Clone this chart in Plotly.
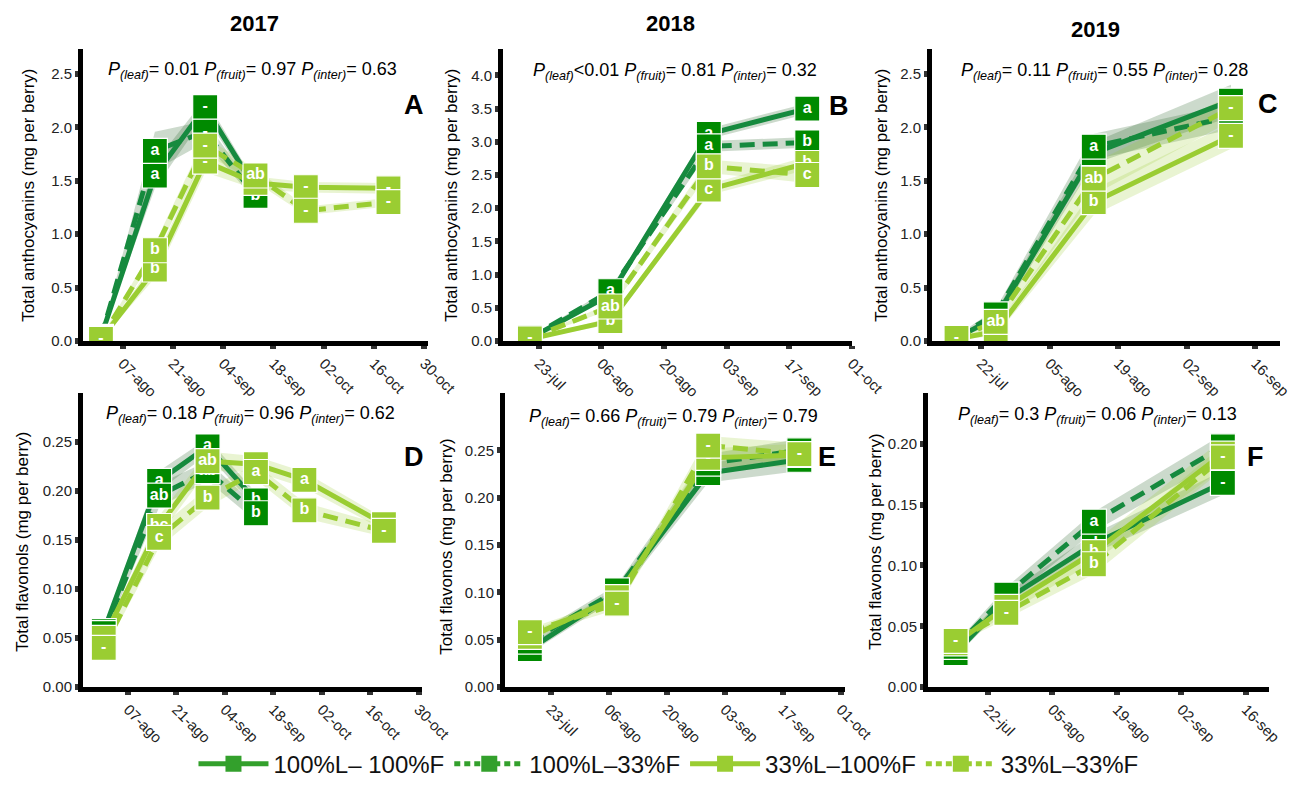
import plotly.graph_objects as go

# ---------------- data ----------------
SERIES = ["100%L\u2013 100%F", "100%L\u201333%F", "33%L\u2013100%F", "33%L\u201333%F"]

# Panel A: 2017 anthocyanins
A_dates = ["2017-08-01", "2017-08-16", "2017-08-30", "2017-09-13", "2017-09-27", "2017-10-20"]
A_vals = [[0.04, 1.55, 2.19, 1.43],
          [0.03, 1.78, 1.96, 1.36],
          [0.02, 0.67, 1.68, 1.48, 1.44, 1.43],
          [0.02, 0.85, 1.83, 1.55, 1.22, 1.30]]
A_se = [[0.01, 0.12, 0.08, 0.05],
        [0.01, 0.18, 0.10, 0.05],
        [0.01, 0.08, 0.10, 0.06, 0.05, 0.05],
        [0.01, 0.06, 0.08, 0.06, 0.04, 0.04]]
A_lab = [["-", "a", "-", "b"],
         ["-", "a", "-", "b"],
         ["-", "b", "-", "a", "-", "-"],
         ["-", "b", "-", "ab", "-", "-"]]

# Panel B: 2018 anthocyanins
B_dates = ["2018-07-21", "2018-08-08", "2018-08-30", "2018-09-21"]
B_vals = [[0.04, 0.70, 3.12, 3.50],
          [0.05, 0.75, 2.93, 2.99],
          [0.03, 0.30, 2.28, 2.68],
          [0.04, 0.52, 2.63, 2.50]]
B_se = [[0.01, 0.05, 0.08, 0.08],
        [0.01, 0.05, 0.08, 0.08],
        [0.01, 0.05, 0.08, 0.10],
        [0.01, 0.05, 0.10, 0.12]]
B_lab = [["-", "a", "a", "a"],
         ["-", "a", "a", "b"],
         ["-", "b", "c", "b"],
         ["-", "ab", "b", "c"]]

# Panel C: 2019 anthocyanins
C_dates = ["2019-07-17", "2019-07-25", "2019-08-14", "2019-09-11"]
C_vals = [[0.03, 0.22, 1.76, 2.25],
          [0.04, 0.25, 1.82, 2.10],
          [0.02, 0.09, 1.30, 1.92],
          [0.03, 0.18, 1.52, 2.18]]
C_se = [[0.01, 0.05, 0.10, 0.15],
        [0.01, 0.05, 0.12, 0.12],
        [0.01, 0.04, 0.12, 0.12],
        [0.01, 0.05, 0.15, 0.12]]
C_lab = [["-", "a", "a", "-"],
         ["-", "a", "a", "-"],
         ["-", "b", "b", "-"],
         ["-", "ab", "ab", "-"]]

# Panel D: 2017 flavonols
D_dates = ["2017-07-31", "2017-08-16", "2017-08-30", "2017-09-13", "2017-09-27", "2017-10-20"]
D_vals = [[0.057, 0.210, 0.245, 0.190],
          [0.055, 0.195, 0.220, 0.177],
          [0.050, 0.164, 0.230, 0.227, 0.211, 0.166],
          [0.040, 0.152, 0.193, 0.219, 0.180, 0.159]]
D_se = [[0.004, 0.010, 0.008, 0.008],
        [0.004, 0.012, 0.010, 0.008],
        [0.004, 0.010, 0.010, 0.008, 0.008, 0.006],
        [0.004, 0.010, 0.010, 0.008, 0.008, 0.006]]
D_lab = [["-", "a", "a", "b"],
         ["-", "ab", "ab", "b"],
         ["-", "bc", "ab", "a", "a", "-"],
         ["-", "c", "b", "a", "b", "-"]]

# Panel E: 2018 flavonols
E_dates = ["2018-07-18", "2018-08-08", "2018-08-30", "2018-09-21"]
E_vals = [[0.040, 0.100, 0.226, 0.240],
          [0.048, 0.102, 0.236, 0.250],
          [0.053, 0.095, 0.242, 0.245],
          [0.058, 0.088, 0.255, 0.246]]
E_se = [[0.004, 0.006, 0.010, 0.012],
        [0.004, 0.006, 0.010, 0.012],
        [0.004, 0.006, 0.010, 0.012],
        [0.004, 0.006, 0.010, 0.012]]
E_lab = [["-", "-", "-", "-"],
         ["-", "-", "-", "-"],
         ["-", "-", "-", "-"],
         ["-", "-", "-", "-"]]

# Panel F: 2019 flavonols
F_dates = ["2019-07-15", "2019-07-26", "2019-08-14", "2019-09-11"]
F_vals = [[0.028, 0.072, 0.118, 0.168],
          [0.033, 0.076, 0.136, 0.198],
          [0.036, 0.066, 0.111, 0.192],
          [0.038, 0.061, 0.101, 0.189]]
F_se = [[0.003, 0.005, 0.008, 0.010],
        [0.003, 0.006, 0.008, 0.010],
        [0.003, 0.006, 0.008, 0.012],
        [0.003, 0.005, 0.008, 0.010]]
F_lab = [["-", "-", "ab", "-"],
         ["-", "-", "a", "-"],
         ["-", "-", "b", "-"],
         ["-", "-", "b", "-"]]

# tick labels
T2017_vals = ["2017-08-07", "2017-08-21", "2017-09-04", "2017-09-18", "2017-10-02", "2017-10-16", "2017-10-30"]
T2017_text = ["07-ago", "21-ago", "04-sep", "18-sep", "02-oct", "16-oct", "30-oct"]
T2018_vals = ["2018-07-23", "2018-08-06", "2018-08-20", "2018-09-03", "2018-09-17", "2018-10-01"]
T2018_text = ["23-jul", "06-ago", "20-ago", "03-sep", "17-sep", "01-oct"]
T2019_vals = ["2019-07-22", "2019-08-05", "2019-08-19", "2019-09-02", "2019-09-16"]
T2019_text = ["22-jul", "05-ago", "19-ago", "02-sep", "16-sep"]

Y_antho_A = [0, 0.5, 1.0, 1.5, 2.0, 2.5]
Y_antho_A_text = ["0.0", "0.5", "1.0", "1.5", "2.0", "2.5"]
Y_antho_B = [0, 0.5, 1.0, 1.5, 2.0, 2.5, 3.0, 3.5, 4.0]
Y_antho_B_text = ["0.0", "0.5", "1.0", "1.5", "2.0", "2.5", "3.0", "3.5", "4.0"]
Y_flav_DE = [0, 0.05, 0.10, 0.15, 0.20, 0.25]
Y_flav_DE_text = ["0.00", "0.05", "0.10", "0.15", "0.20", "0.25"]
Y_flav_F = [0, 0.05, 0.10, 0.15, 0.20]
Y_flav_F_text = ["0.00", "0.05", "0.10", "0.15", "0.20"]

P_texts = [
    ("0.01", "0.97", "0.63", "="),
    ("0.01", "0.81", "0.32", "<"),
    ("0.11", "0.55", "0.28", "="),
    ("0.18", "0.96", "0.62", "="),
    ("0.66", "0.79", "0.79", "="),
    ("0.3", "0.06", "0.13", "="),
]

# ---------------- styling ----------------
W, H = 1298, 787
DARK_LINE = "#168a3e"
DARK_MARK = "#008a00"
LIGHT = "#9acd32"
STY = [
    dict(line=DARK_LINE, mark=DARK_MARK, rib="rgba(40,100,40,0.24)", dash="solid"),
    dict(line=DARK_LINE, mark=DARK_MARK, rib="rgba(40,100,40,0.24)", dash="15px,8px"),
    dict(line=LIGHT, mark=LIGHT, rib="rgba(154,205,50,0.22)", dash="solid"),
    dict(line=LIGHT, mark=LIGHT, rib="rgba(154,205,50,0.22)", dash="15px,8px"),
]
FONT = "Liberation Sans, Arial, sans-serif"

# pixel boxes of panels: (left, right, top, bottom)
BOX = [(83, 428, 50, 345), (503, 852, 50, 345), (932, 1280, 50, 345),
       (83, 422, 398, 695), (505, 845, 398, 695), (928, 1269, 398, 695)]

panels = [
    dict(dates=A_dates, vals=A_vals, se=A_se, lab=A_lab, xr=["2017-07-27", "2017-10-31"], yr=[0, 2.73],
         tv=T2017_vals, tt=T2017_text, yv=Y_antho_A, yt=Y_antho_A_text),
    dict(dates=B_dates, vals=B_vals, se=B_se, lab=B_lab, xr=["2018-07-15", "2018-10-01"], yr=[0, 4.39],
         tv=T2018_vals, tt=T2018_text, yv=Y_antho_B, yt=Y_antho_B_text),
    dict(dates=C_dates, vals=C_vals, se=C_se, lab=C_lab, xr=["2019-07-12", "2019-09-21"], yr=[0, 2.73],
         tv=T2019_vals, tt=T2019_text, yv=Y_antho_A, yt=Y_antho_A_text),
    dict(dates=D_dates, vals=D_vals, se=D_se, lab=D_lab, xr=["2017-07-25", "2017-10-31"], yr=[0, 0.299],
         tv=T2017_vals, tt=T2017_text, yv=Y_flav_DE, yt=Y_flav_DE_text),
    dict(dates=E_dates, vals=E_vals, se=E_se, lab=E_lab, xr=["2018-07-12", "2018-10-02"], yr=[0, 0.31],
         tv=T2018_vals, tt=T2018_text, yv=Y_flav_DE, yt=Y_flav_DE_text),
    dict(dates=F_dates, vals=F_vals, se=F_se, lab=F_lab, xr=["2019-07-09", "2019-09-21"], yr=[0, 0.2415],
         tv=T2019_vals, tt=T2019_text, yv=Y_flav_F, yt=Y_flav_F_text),
]

fig = go.Figure()
layout = dict(width=W, height=H, margin=dict(l=0, r=0, t=0, b=0),
              paper_bgcolor="white", plot_bgcolor="white", template="none",
              font=dict(family=FONT, color="#222"), showlegend=True)

for i, p in enumerate(panels):
    n = i + 1
    xa = "x" if n == 1 else f"x{n}"
    ya = "y" if n == 1 else f"y{n}"
    L, R, T, B = BOX[i]
    layout["xaxis" if n == 1 else f"xaxis{n}"] = dict(
        domain=[L / W, R / W], anchor=ya, type="date", range=p["xr"],
        tickvals=p["tv"], ticktext=p["tt"], tickangle=45,
        showline=True, linewidth=5, linecolor="black", ticks="outside",
        ticklen=3, tickwidth=6, tickcolor="#333", showgrid=False, zeroline=False,
        tickfont=dict(size=15, color="#222", family=FONT))
    layout["yaxis" if n == 1 else f"yaxis{n}"] = dict(
        domain=[1 - B / H, 1 - T / H], anchor=xa, range=p["yr"],
        tickvals=p["yv"], ticktext=p["yt"],
        showline=True, linewidth=5, linecolor="black", ticks="outside",
        ticklen=3, tickwidth=6, tickcolor="#333", showgrid=False, zeroline=False,
        tickfont=dict(size=15, color="#222", family=FONT))

    # ribbons
    for s in range(4):
        v = p["vals"][s]
        e = p["se"][s]
        d = p["dates"][:len(v)]
        up = [a + b for a, b in zip(v, e)]
        lo = [a - b for a, b in zip(v, e)]
        fig.add_trace(go.Scatter(x=d + d[::-1], y=up + lo[::-1], fill="toself",
                                 fillcolor=STY[s]["rib"], line=dict(width=0),
                                 mode="lines", hoverinfo="skip", showlegend=False,
                                 xaxis=xa, yaxis=ya))
    # lines
    for s in range(4):
        v = p["vals"][s]
        d = p["dates"][:len(v)]
        fig.add_trace(go.Scatter(x=d, y=v, mode="lines",
                                 line=dict(color=STY[s]["line"], width=5, dash=STY[s]["dash"]),
                                 showlegend=False, xaxis=xa, yaxis=ya))
    # label boxes
    for s in range(4):
        v = p["vals"][s]
        d = p["dates"][:len(v)]
        fig.add_trace(go.Scatter(x=d, y=v, mode="markers+text", text=p["lab"][s],
                                 textposition="middle center",
                                 textfont=dict(color="white", size=16, family=FONT, weight="bold"),
                                 marker=dict(symbol="square", size=25, color=STY[s]["mark"],
                                             line=dict(color="white", width=1.2)),
                                 showlegend=False, xaxis=xa, yaxis=ya))

# legend-only traces
LEG_COL = ["#33a02c", "#33a02c", LIGHT, LIGHT]
LEG_DASH = ["solid", "6px,4px", "solid", "6px,4px"]
for s in range(4):
    fig.add_trace(go.Scatter(x=[None], y=[None], mode="lines+markers", name=SERIES[s],
                             line=dict(color=LEG_COL[s], width=5, dash=LEG_DASH[s]),
                             marker=dict(symbol="square", size=24, color=LEG_COL[s]),
                             xaxis="x", yaxis="y"))

layout["legend"] = dict(orientation="h", x=0.515, xanchor="center", y=1 - 773 / H, yanchor="middle",
                        font=dict(size=24, family="Liberation Sans Narrow, Arial Narrow, " + FONT, color="#111"),
                        bgcolor="rgba(0,0,0,0)", itemwidth=70, tracegroupgap=0)

ann = []
def add_ann(text, x, y, size, angle=0):
    ann.append(dict(text=text, x=x / W, y=1 - y / H, xref="paper", yref="paper",
                    xanchor="center", yanchor="middle", showarrow=False, textangle=angle,
                    font=dict(size=size, color="black", family=FONT)))

# year titles
for txt, x, y in [("2017", 255, 24), ("2018", 670, 24), ("2019", 1095, 30)]:
    add_ann(f"<b>{txt}</b>", x, y, 22)
# P-value texts
P_pos = [(252, 71), (675, 72), (1104, 72), (250, 419), (673, 422), (1097, 420)]
for (pl, pf, pi, op), (x, y) in zip(P_texts, P_pos):
    sep = "<" if op == "<" else "= "
    t = (f"<i>P</i><sub><i>(leaf)</i></sub>{sep}{pl} "
         f"<i>P</i><sub><i>(fruit)</i></sub>= {pf} "
         f"<i>P</i><sub><i>(inter)</i></sub>= {pi}")
    add_ann(t, x, y, 18)
# panel letters
for txt, x, y in [("A", 414, 106), ("B", 839, 107), ("C", 1268, 105),
                  ("D", 414, 462), ("E", 827, 462), ("F", 1255, 462)]:
    add_ann(f"<b>{txt}</b>", x, y, 27)
# y titles
for txt, x, y in [("Total anthocyanins (mg per berry)", 29, 198),
                  ("Total anthocyanins (mg per berry)", 452, 198),
                  ("Total anthocyanins (mg per berry)", 882, 198),
                  ("Total flavonols (mg per berry)", 23, 548),
                  ("Total flavonos (mg per berry)", 447, 553),
                  ("Total flavonos (mg per berry)", 876, 548)]:
    add_ann(txt, x, y, 17, angle=-90)
layout["annotations"] = ann

fig.update_layout(**layout)
fig.write_html("out.html")
